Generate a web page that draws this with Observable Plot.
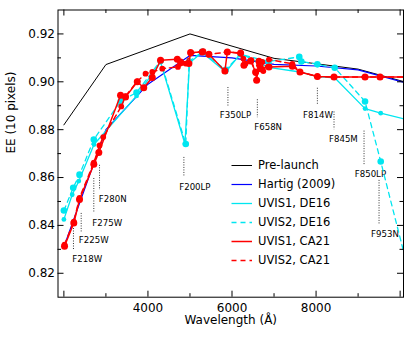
<!DOCTYPE html>
<html><head><meta charset="utf-8">
<script src="https://cdn.jsdelivr.net/npm/d3@7"></script>
<script src="https://cdn.jsdelivr.net/npm/@observablehq/plot@0.6"></script>
<style>
body{margin:0;background:#fff;}
#wrap{position:relative;width:415px;height:339px;font-family:"DejaVu Sans",sans-serif;}
#legend{position:absolute;left:231px;top:155.5px;font-size:11.5px;color:#000;}
.row{height:19px;display:flex;align-items:center;white-space:nowrap;}
.row svg{margin-right:6px;}
</style></head><body><div id="wrap"><div id="chart"></div><div id="legend"></div></div>
<script>
// ---- data ----
const preWave = [2000, 3000, 5000, 7000, 9000, 10500];
const preEE   = [0.882, 0.9072, 0.920, 0.9098, 0.9053, 0.8981];

const hartigWave = [2000, 3000, 4000, 5000, 6000, 7000, 8000, 9000, 10500];
const hartigEE   = [0.831, 0.880, 0.899, 0.911, 0.910, 0.9073, 0.9066, 0.9050, 0.8978];

const de16u1Wave = [2000, 2198, 2355, 2717, 3729, 4300, 4880, 4990, 5290, 5850, 6205, 6870, 7617, 8031, 8443, 9165, 9538, 10500];
const de16u1EE   = [0.8425, 0.8528, 0.8585, 0.8738, 0.8941, 0.9082, 0.8740, 0.9080, 0.9122, 0.9041, 0.9118, 0.9060, 0.9041, 0.9022, 0.9017, 0.8888, 0.8869, 0.8828];

const de16u2Wave = [2000, 2222, 2372, 2712, 3355, 3729, 4300, 4900, 4980, 5290, 5850, 6205, 6870, 7600, 7650, 8031, 8443, 9165, 9538, 10500];
const de16u2EE   = [0.8462, 0.8557, 0.8612, 0.8759, 0.8920, 0.8955, 0.9088, 0.8740, 0.9085, 0.9125, 0.9050, 0.9115, 0.9085, 0.9104, 0.9085, 0.9073, 0.9059, 0.8918, 0.8667, 0.8002];

const ca21u1Wave = [2015, 2236, 2372, 2712, 2831, 3348, 3467, 3746, 3900, 4103, 4300, 4698, 4777, 4974, 5015, 5293, 5450, 5831, 5889, 6205, 6284, 6443, 6562, 6586, 6641, 6681, 6879, 7436, 7617, 8031, 8427, 9165, 9522, 10500];
const ca21u1EE   = [0.8313, 0.8410, 0.8508, 0.8655, 0.8705, 0.8944, 0.8936, 0.9000, 0.8975, 0.9018, 0.9090, 0.9094, 0.9083, 0.9076, 0.9122, 0.9125, 0.9115, 0.9045, 0.9125, 0.9120, 0.9069, 0.9087, 0.9041, 0.9006, 0.9086, 0.9055, 0.9062, 0.9065, 0.9041, 0.9022, 0.9020, 0.9020, 0.9020, 0.9020];

const ca21u2Wave = [2015, 2236, 2372, 2712, 2848, 2936, 3365, 3467, 3746, 3943, 4103, 4341, 4713, 4896, 5015, 5317, 5450, 5889, 6205, 6269, 6324, 6460, 6562, 6641, 6721, 6745, 6879, 7436, 7617, 8031, 8427, 9165, 9522, 10500];
const ca21u2EE   = [0.8320, 0.8416, 0.8515, 0.8662, 0.8734, 0.8769, 0.8897, 0.8940, 0.9002, 0.9034, 0.9041, 0.9055, 0.9062, 0.9076, 0.9118, 0.9128, 0.9114, 0.9125, 0.9118, 0.9097, 0.9076, 0.9090, 0.9037, 0.9069, 0.9083, 0.9045, 0.9093, 0.9075, 0.9041, 0.9022, 0.9020, 0.9020, 0.9020, 0.9020];

const filterNames = ["F218W", "F225W", "F275W", "F280N", "F200LP", "F350LP", "F658N", "F814W", "F845M", "F850LP", "F953N"];
const filterWave  = [2228, 2412, 2712, 2848, 4855, 5903, 6603, 8031, 8427, 9141, 9498];
const dotTop      = [0.8387, 0.8450, 0.8596, 0.8651, 0.8684, 0.8976, 0.8925, 0.8973, 0.8874, 0.8794, 0.8588];
const dotBottom   = [0.8299, 0.8370, 0.8454, 0.8546, 0.8602, 0.8898, 0.8850, 0.8906, 0.8800, 0.8651, 0.8400];
const labelWave   = [2555, 2710, 3031, 3162, 5117, 6081, 6860, 8046, 8650, 9293, 9638];
const labelEE     = [0.8260, 0.8340, 0.8411, 0.8511, 0.8560, 0.8860, 0.8811, 0.8860, 0.8762, 0.8613, 0.8362];

const xMajor = [2000, 4000, 6000, 8000, 10000];
const xMinor = [3000, 5000, 7000, 9000];
const xLabels = [4000, 6000, 8000];
const yMajor = [0.82, 0.84, 0.86, 0.88, 0.90, 0.92];
const yMinor = [0.83, 0.85, 0.87, 0.89, 0.91];
const yLabels = [0.82, 0.84, 0.86, 0.88, 0.90, 0.92];

const seriesNames = ["Pre-launch", "Hartig (2009)", "UVIS1, DE16", "UVIS2, DE16", "UVIS1, CA21", "UVIS2, CA21"];

// ---- styles / layout ----
const W = 415, H = 339, ML = 57.5, MR = 12, MT = 9.5, MB = 42.3;
const FW = W - ML - MR, FH = H - MT - MB;
const CYAN = "#00e6f0", RED = "#ff0000", BLUE = "#0000ff";
const seriesColors = ["#000000", BLUE, CYAN, CYAN, RED, RED];
const seriesDash = [null, null, null, "5,4", null, "5,4"];
const seriesWidth = [1, 1.2, 1.3, 1.3, 1.5, 1.5];

const rows = (w, v) => w.map((d, i) => ({x: d, y: v[i]}));
const line = (w, v, k) => Plot.line(rows(w, v), {x: "x", y: "y", stroke: seriesColors[k], strokeWidth: seriesWidth[k], strokeDasharray: seriesDash[k], clip: true});
const dots = (w, v, k, r) => Plot.dot(rows(w, v), {x: "x", y: "y", r, fill: seriesColors[k], clip: true});
const xt = (vals, side, len) => Plot.tickX(vals, {x: d => d, stroke: "black", strokeWidth: 1,
  insetTop: side === "bottom" ? FH - len : 0, insetBottom: side === "top" ? FH - len : 0});
const yt = (vals, side, len) => Plot.tickY(vals, {y: d => d, stroke: "black", strokeWidth: 1,
  insetRight: side === "left" ? FW - len : 0, insetLeft: side === "right" ? FW - len : 0});

const chart = Plot.plot({
  width: W, height: H,
  marginLeft: ML, marginRight: MR, marginTop: MT, marginBottom: MB,
  x: {domain: [1860, 10080]},
  y: {domain: [0.81, 0.93]},
  style: {fontFamily: "DejaVu Sans", fontSize: 12, background: "white", color: "black"},
  marks: [
    Plot.ruleX(filterNames.map((n, i) => ({x: filterWave[i], y1: dotTop[i], y2: dotBottom[i]})), {x: "x", y1: "y1", y2: "y2", stroke: "#333", strokeDasharray: "1,1.5"}),
    Plot.text(filterNames, {x: (d, i) => labelWave[i], y: (d, i) => labelEE[i], text: d => d, fontSize: 8.6, fill: "black"}),
    line(preWave, preEE, 0),
    line(hartigWave, hartigEE, 1),
    line(de16u1Wave, de16u1EE, 2),
    dots(de16u1Wave, de16u1EE, 2, 2.4),
    line(de16u2Wave, de16u2EE, 3),
    dots(de16u2Wave, de16u2EE, 3, 3.3),
    line(ca21u1Wave, ca21u1EE, 4),
    dots(ca21u1Wave, ca21u1EE, 4, 3.5),
    line(ca21u2Wave, ca21u2EE, 5),
    dots(ca21u2Wave, ca21u2EE, 5, 2.9),
    Plot.frame({stroke: "black", strokeWidth: 1}),
    xt(xMajor, "bottom", 6), xt(xMinor, "bottom", 3.5),
    xt(xMajor, "top", 6), xt(xMinor, "top", 3.5),
    yt(yMajor, "left", 6), yt(yMinor, "left", 3.5),
    yt(yMajor, "right", 6), yt(yMinor, "right", 3.5),
    Plot.axisX(xLabels, {anchor: "bottom", tickSize: 0, tickPadding: 6, tickFormat: d => String(d), fontSize: 12, label: null}),
    Plot.axisY(yLabels, {anchor: "left", tickSize: 0, tickPadding: 3, tickFormat: d => d.toFixed(2), fontSize: 12, label: null}),
    Plot.text(["Wavelength (Å)"], {frameAnchor: "bottom", dy: 27, text: d => d, fontSize: 12}),
    Plot.text(["EE (10 pixels)"], {frameAnchor: "left", dx: -46.5, rotate: -90, text: d => d, fontSize: 12})
  ]
});
document.getElementById("chart").appendChild(chart);

// legend
const leg = document.getElementById("legend");
seriesNames.forEach((name, k) => {
  const row = document.createElement("div");
  row.className = "row";
  const dash = seriesDash[k] ? ` stroke-dasharray="${seriesDash[k]}"` : "";
  row.innerHTML = `<svg width="21" height="19"><line x1="0.5" x2="21" y1="9.5" y2="9.5" stroke="${seriesColors[k]}" stroke-width="${seriesWidth[k]}"${dash}/></svg><span>${name}</span>`;
  leg.appendChild(row);
});
</script></body></html>
